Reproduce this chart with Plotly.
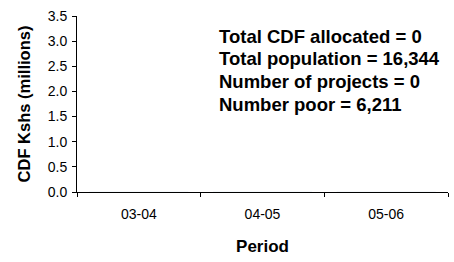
import plotly.graph_objects as go

periods = ["03-04", "04-05", "05-06"]
cdf_millions = [0, 0, 0]
info_lines = [
    "Total CDF allocated = 0",
    "Total population = 16,344",
    "Number of projects = 0",
    "Number poor = 6,211",
]
y_ticks = [0.0, 0.5, 1.0, 1.5, 2.0, 2.5, 3.0, 3.5]

font = "Liberation Sans, Arial, sans-serif"

fig = go.Figure()
fig.add_trace(go.Bar(x=periods, y=cdf_millions, marker_color="#000080", showlegend=False))

line_y = [0.8835, 0.7557, 0.628, 0.5]
for txt, yy in zip(info_lines, line_y):
    fig.add_annotation(
        text="<b>%s</b>" % txt, xref="paper", yref="paper", x=0.378, y=yy,
        xanchor="left", yanchor="middle", showarrow=False,
        font=dict(family=font, size=18.5, color="black"),
    )

fig.update_layout(
    width=454, height=262,
    margin=dict(l=77, r=6, t=16, b=70),
    paper_bgcolor="white", plot_bgcolor="white",
    font=dict(family=font, color="black"),
)
fig.update_xaxes(
    type="category", tickson="boundaries", ticks="outside", ticklen=4,
    tickcolor="black", showline=True, linecolor="black", linewidth=1,
    showgrid=False, tickfont=dict(size=14, family=font), automargin=False,
    ticklabelstandoff=9,
    title=dict(text="<b>Period</b>", font=dict(size=17, family=font), standoff=19),
)
fig.update_yaxes(
    range=[0, 3.5], tickvals=y_ticks, tickformat=".1f", ticks="outside", ticklen=4,
    tickcolor="black", showline=True, linecolor="black", linewidth=1,
    showgrid=False, zeroline=False, tickfont=dict(size=14, family=font), automargin=False,
    ticklabelstandoff=2,
    title=dict(text="<b>CDF Kshs (millions)</b>", font=dict(size=16.5, family=font), standoff=12),
)

fig.write_html(
    "out.html",
    config={"displayModeBar": False},
    post_script="document.body.style.margin='0';document.body.style.overflow='hidden';",
)
